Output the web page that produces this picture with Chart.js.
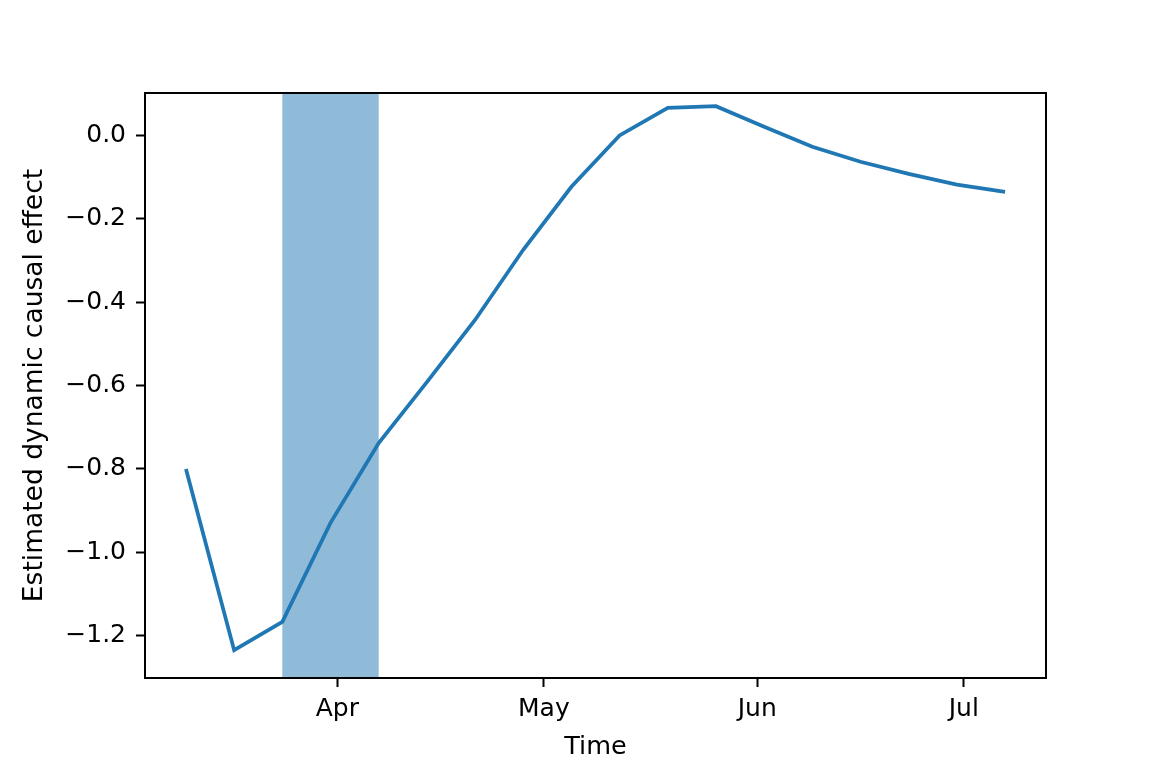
<!DOCTYPE html>
<html>
<head>
<meta charset="utf-8">
<script src="https://cdn.jsdelivr.net/npm/chart.js@4/dist/chart.umd.min.js"></script>
<style>
  html, body { margin: 0; padding: 0; background: #fff; }
  #wrap { width: 1163px; height: 775px; }
</style>
</head>
<body>
<div id="wrap"><canvas id="effectChart" width="1163" height="775"></canvas></div>
<script>
// weekly estimates
const dates = ['2020-03-10', '2020-03-17', '2020-03-24', '2020-03-31', '2020-04-07', '2020-04-14',
               '2020-04-21', '2020-04-28', '2020-05-05', '2020-05-12', '2020-05-19', '2020-05-26',
               '2020-06-02', '2020-06-09', '2020-06-16', '2020-06-23', '2020-06-30', '2020-07-07']
const effect = [-0.800, -1.234, -1.166, -0.929, -0.738, -0.592, -0.443, -0.275, -0.124, -0.001,
                0.065, 0.069, 0.020, -0.028, -0.064, -0.093, -0.119, -0.136]

const shadeFrom = '2020-03-24'
const shadeTo = '2020-04-07'

const monthTicks = ['2020-04-01', '2020-05-01', '2020-06-01', '2020-07-01']
const monthLabels = ['Apr', 'May', 'Jun', 'Jul']

const yTicks = [0.0, -0.2, -0.4, -0.6, -0.8, -1.0, -1.2]

const toDay = d => Date.parse(d + 'T00:00:00Z') / 86400000

const xs = dates.map(toDay)
const margin = (xs[xs.length - 1] - xs[0]) * 0.05

const FONT = 'DejaVu Sans'
const BLUE = '#1f77b4'

const spanPlugin = {
  id: 'span',
  beforeDatasetsDraw(chart) {
    const {ctx, chartArea, scales} = chart
    const x0 = scales.x.getPixelForValue(toDay(shadeFrom))
    const x1 = scales.x.getPixelForValue(toDay(shadeTo))
    ctx.save()
    ctx.fillStyle = 'rgba(31, 119, 180, 0.5)'
    ctx.fillRect(x0, chartArea.top, x1 - x0, chartArea.bottom - chartArea.top)
    ctx.restore()
  },
  afterDatasetsDraw(chart) {
    const {ctx, chartArea} = chart
    ctx.save()
    ctx.strokeStyle = '#000'
    ctx.lineWidth = 2
    ctx.strokeRect(chartArea.left, chartArea.top, chartArea.right - chartArea.left, chartArea.bottom - chartArea.top)
    ctx.restore()
  }
}

new Chart(document.getElementById('effectChart'), {
  type: 'line',
  data: {
    datasets: [{
      data: xs.map((x, i) => ({x: x, y: effect[i]})),
      borderColor: BLUE,
      borderWidth: 3.75,
      pointRadius: 0,
      tension: 0,
      fill: false
    }]
  },
  options: {
    responsive: false,
    animation: false,
    devicePixelRatio: 1,
    layout: {padding: {top: 93, right: 117, left: 0, bottom: 0}},
    plugins: {legend: {display: false}, tooltip: {enabled: false}},
    scales: {
      x: {
        type: 'linear',
        min: xs[0] - margin,
        max: xs[xs.length - 1] + margin,
        afterBuildTicks: s => { s.ticks = monthTicks.map(d => ({value: toDay(d)})) },
        afterFit: s => { s.height = 97 },
        ticks: {
          autoSkip: false,
          maxRotation: 0,
          padding: 7,
          color: '#000',
          font: {family: FONT, size: 25},
          callback: (v, i) => monthLabels[i]
        },
        grid: {drawOnChartArea: false, tickLength: 9, tickWidth: 2, tickColor: '#000'},
        border: {display: true, color: '#000', width: 2},
        title: {display: true, text: 'Time', color: '#000', font: {family: FONT, size: 25.5}, padding: {top: 0, bottom: 12}}
      },
      y: {
        min: -1.3006,
        max: 0.1006,
        afterBuildTicks: s => { s.ticks = yTicks.map(v => ({value: v})) },
        afterFit: s => { s.width = 145 },
        ticks: {
          padding: 10,
          color: '#000',
          font: {family: FONT, size: 25},
          callback: v => (v < 0 ? '\u2212' : '') + Math.abs(v).toFixed(1)
        },
        grid: {drawOnChartArea: false, tickLength: 9, tickWidth: 2, tickColor: '#000'},
        border: {display: true, color: '#000', width: 2},
        title: {display: true, text: 'Estimated dynamic causal effect', color: '#000', font: {family: FONT, size: 26.5}, padding: {top: 19, bottom: 0}}
      }
    }
  },
  plugins: [spanPlugin]
})
</script>
</body>
</html>
